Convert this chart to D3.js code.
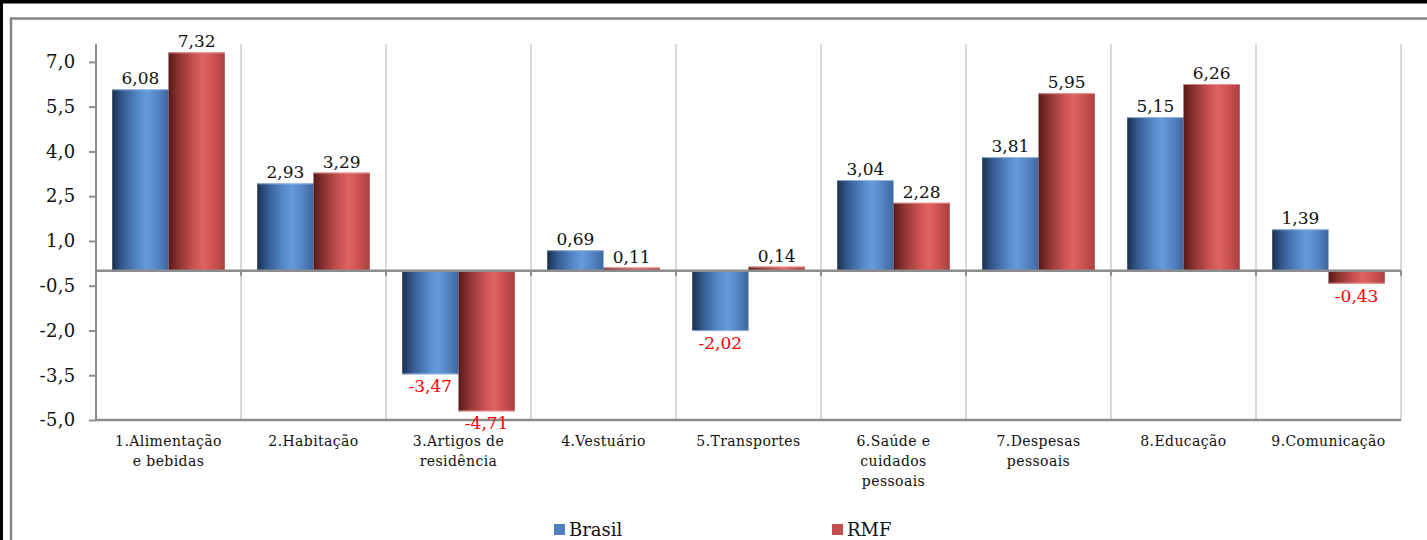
<!DOCTYPE html>
<html lang="pt-BR">
<head>
<meta charset="utf-8">
<title>Variação por grupo — Brasil e RMF</title>
<script src="https://cdn.jsdelivr.net/npm/d3@7"></script>
<style>
  html, body { margin: 0; padding: 0; background: #fff; }
  svg { display: block; }
  text { font-family: "DejaVu Serif", "Liberation Serif", serif; }
</style>
</head>
<body>
<svg id="chart" width="1427" height="540"></svg>
<script>
// Grupos de despesa (quebras de linha dos rótulos com "\n")
const categories = [
  "1.Alimentação\ne bebidas",
  "2.Habitação",
  "3.Artigos de\nresidência",
  "4.Vestuário",
  "5.Transportes",
  "6.Saúde e\ncuidados\npessoais",
  "7.Despesas\npessoais",
  "8.Educação",
  "9.Comunicação"
];
const seriesNames = ["Brasil", "RMF"];
const brasil = [6.08, 2.93, -3.47, 0.69, -2.02, 3.04, 3.81, 5.15, 1.39];
const rmf    = [7.32, 3.29, -4.71, 0.11, 0.14, 2.28, 5.95, 6.26, -0.43];
const yTicks = [7.0, 5.5, 4.0, 2.5, 1.0, -0.5, -2.0, -3.5, -5.0];

const W = 1427, H = 540;
const plot = { left: 96, right: 1401, top: 44, bottom: 420 };

const locale = d3.formatLocale({ decimal: ",", thousands: ".", grouping: [3], currency: ["R$", ""], minus: "-" });
const fmt1 = locale.format(".1f");
const fmt2 = locale.format(".2f");

const svg = d3.select("#chart");

// Moldura externa
svg.append("rect").attr("x", 0).attr("y", 0).attr("width", W).attr("height", 3.5).attr("fill", "#000");
svg.append("rect").attr("x", 0).attr("y", 0).attr("width", 3).attr("height", H).attr("fill", "#000");
svg.append("line").attr("x1", 10).attr("x2", W).attr("y1", 18.5).attr("y2", 18.5)
  .attr("stroke", "#858585").attr("stroke-width", 2.5);
svg.append("line").attr("x1", 11).attr("x2", 11).attr("y1", 17.5).attr("y2", H)
  .attr("stroke", "#858585").attr("stroke-width", 2.5);

// Escalas
const x0 = d3.scaleBand().domain(categories).range([plot.left, plot.right]).paddingInner(0).paddingOuter(0);
const x1 = d3.scaleBand().domain(seriesNames).range([0, x0.bandwidth()]).paddingInner(0).paddingOuter(0.288);
const y = d3.scaleLinear().domain([-5, 7.6]).range([plot.bottom, plot.top]);

// Gradientes cilíndricos das barras
const defs = svg.append("defs");
const gradients = {
  Brasil: [[0, "#1b304d"], [0.18, "#34598f"], [0.45, "#5487c8"], [0.62, "#659bdb"], [0.82, "#5282c1"], [1, "#3d679f"]],
  RMF:    [[0, "#571919"], [0.18, "#8c3232"], [0.45, "#c85252"], [0.62, "#e06262"], [0.82, "#c95050"], [1, "#a83f3f"]]
};
const gradId = { Brasil: "grad-brasil", RMF: "grad-rmf" };
Object.entries(gradients).forEach(([name, stops]) => {
  const g = defs.append("linearGradient").attr("id", gradId[name])
    .attr("x1", "0%").attr("x2", "100%").attr("y1", "0%").attr("y2", "0%");
  stops.forEach(([o, c]) => g.append("stop").attr("offset", o).attr("stop-color", c));
});
const edgeColor = { Brasil: "#a9c3e6", RMF: "#e9a0a0" };
const legendColor = { Brasil: "#4f81bd", RMF: "#c0504d" };

// Linhas de grade verticais entre grupos
const boundaries = categories.slice(1).map(c => x0(c)).concat([plot.right]);
svg.append("g").selectAll("line").data(boundaries).join("line")
  .attr("x1", d => d).attr("x2", d => d)
  .attr("y1", plot.top).attr("y2", plot.bottom)
  .attr("stroke", "#d9d9d9").attr("stroke-width", 2);

// Borda inferior da área de plotagem
svg.append("line").attr("x1", plot.left).attr("x2", plot.right)
  .attr("y1", plot.bottom).attr("y2", plot.bottom)
  .attr("stroke", "#8c8c8c").attr("stroke-width", 2.5);

// Eixo Y
const yAxis = d3.axisLeft(y).tickValues(yTicks).tickFormat(fmt1).tickSize(7).tickPadding(13.5);
const gy = svg.append("g").attr("transform", `translate(${plot.left},0)`).call(yAxis);
gy.select(".domain").remove();
gy.selectAll(".tick line").attr("stroke", "#8c8c8c").attr("stroke-width", 2);
gy.selectAll(".tick text").attr("font-size", 18).attr("letter-spacing", "0.3px").attr("fill", "#111")
  .attr("font-family", "DejaVu Serif, serif");
svg.append("line").attr("x1", plot.left).attr("x2", plot.left)
  .attr("y1", plot.top).attr("y2", plot.bottom + 1)
  .attr("stroke", "#8c8c8c").attr("stroke-width", 2);

// Barras
const rows = categories.map((c, i) => ({ cat: c, values: [
  { name: "Brasil", value: brasil[i] },
  { name: "RMF", value: rmf[i] }
]}));

const groups = svg.append("g").selectAll("g").data(rows).join("g")
  .attr("transform", d => `translate(${x0(d.cat)},0)`);

const bars = groups.selectAll("g.bar").data(d => d.values).join("g").attr("class", "bar");
bars.append("rect")
  .attr("x", d => x1(d.name))
  .attr("width", x1.bandwidth())
  .attr("y", d => Math.min(y(d.value), y(0)))
  .attr("height", d => Math.abs(y(d.value) - y(0)))
  .attr("fill", d => `url(#${gradId[d.name]})`);
// realce na extremidade da barra
bars.append("line")
  .attr("x1", d => x1(d.name)).attr("x2", d => x1(d.name) + x1.bandwidth())
  .attr("y1", d => y(d.value) + (d.value >= 0 ? 0.5 : -0.5))
  .attr("y2", d => y(d.value) + (d.value >= 0 ? 0.5 : -0.5))
  .attr("stroke", d => edgeColor[d.name]).attr("stroke-width", 1)
  .attr("opacity", 0.8);

// Rótulos de valor
bars.append("text")
  .attr("x", d => x1(d.name) + x1.bandwidth() / 2)
  .attr("y", d => d.value >= 0 ? y(d.value) - 5 : y(d.value) + 18)
  .attr("text-anchor", "middle")
  .attr("font-size", 17)
  .attr("fill", d => d.value >= 0 ? "#111" : "#ff0000")
  .text(d => fmt2(d.value));

// Linha do zero com marcas entre os grupos
svg.append("line").attr("x1", plot.left).attr("x2", plot.right)
  .attr("y1", y(0)).attr("y2", y(0))
  .attr("stroke", "#8c8c8c").attr("stroke-width", 2.5);
svg.append("g").selectAll("line").data([plot.left].concat(boundaries)).join("line")
  .attr("x1", d => d).attr("x2", d => d)
  .attr("y1", y(0)).attr("y2", y(0) + 5)
  .attr("stroke", "#8c8c8c").attr("stroke-width", 2);

// Rótulos das categorias
const catLabels = svg.append("g").selectAll("text").data(categories).join("text")
  .attr("x", d => x0(d) + x0.bandwidth() / 2)
  .attr("y", 446)
  .attr("text-anchor", "middle")
  .attr("font-size", 14)
  .attr("letter-spacing", "0.4px")
  .attr("fill", "#111");
catLabels.selectAll("tspan").data(d => d.split("\n")).join("tspan")
  .attr("x", function () { return d3.select(this.parentNode).attr("x"); })
  .attr("dy", (d, i) => i === 0 ? 0 : 20)
  .text(d => d);

// Legenda
const legendX = { Brasil: 554, RMF: 832 };
const lg = svg.append("g").selectAll("g").data(seriesNames).join("g")
  .attr("transform", d => `translate(${legendX[d]},524)`);
lg.append("rect").attr("width", 11).attr("height", 11).attr("fill", d => legendColor[d]);
lg.append("text").attr("x", 15).attr("y", 11.5).attr("font-size", 18).attr("fill", "#111").text(d => d);
</script>
</body>
</html>
